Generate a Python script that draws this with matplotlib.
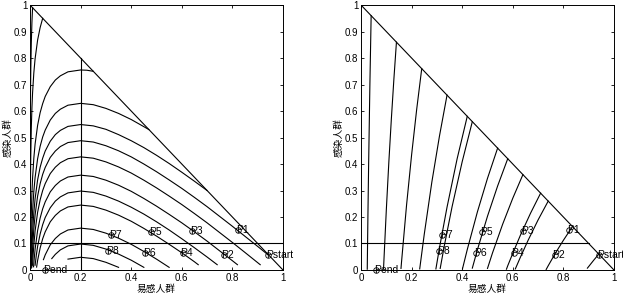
import matplotlib
matplotlib.use("Agg")
import matplotlib.pyplot as plt

plt.rcParams['font.family'] = ['Liberation Sans', 'Noto Sans CJK SC', 'DejaVu Sans']

# labelled points (s, i)
point_names = ['Pstart', 'P1', 'P2', 'P3', 'P4', 'P5', 'P6', 'P7', 'P8', 'Pend']
point_s = [0.940, 0.824, 0.765, 0.641, 0.603, 0.478, 0.456, 0.322, 0.307, 0.058]
point_i = [0.057, 0.151, 0.057, 0.147, 0.063, 0.142, 0.065, 0.131, 0.072, 0.000]

# left panel trajectories as (s, i)
left1 = [(0.01, 0.99), (0.0075, 0.935), (0.005, 0.856), (0.003, 0.756), (0.002, 0.676),
         (0.001, 0.538), (0.0005, 0.400), (0.0002, 0.217), (0.0001, 0.079)]
left2 = [(0.05, 0.95), (0.04, 0.915), (0.03, 0.868), (0.02, 0.797), (0.015, 0.744),
         (0.01, 0.668), (0.0075, 0.613), (0.005, 0.535), (0.003, 0.434), (0.002, 0.354),
         (0.001, 0.217), (0.0005, 0.079)]
left3 = [(0.25, 0.75), (0.225, 0.754), (0.2, 0.755), (0.15, 0.748), (0.12, 0.733), (0.1, 0.717),
         (0.08, 0.692), (0.06, 0.655), (0.05, 0.628), (0.04, 0.594), (0.03, 0.546),
         (0.02, 0.475), (0.015, 0.422), (0.01, 0.346), (0.0075, 0.291), (0.005, 0.213),
         (0.003, 0.112), (0.002, 0.032)]
left4 = [(0.47, 0.53), (0.45, 0.541), (0.4, 0.568), (0.35, 0.591), (0.3, 0.610), (0.25, 0.624),
         (0.2, 0.629), (0.15, 0.622), (0.12, 0.607), (0.1, 0.591), (0.08, 0.566), (0.06, 0.528),
         (0.05, 0.502), (0.04, 0.467), (0.03, 0.420), (0.02, 0.349), (0.015, 0.296),
         (0.01, 0.220), (0.0075, 0.165), (0.005, 0.086), (0.0035, 0.017)]
left5 = [(0.7, 0.300), (0.65, 0.335), (0.6, 0.369), (0.55, 0.402), (0.5, 0.433), (0.45, 0.462),
         (0.4, 0.488), (0.35, 0.511), (0.3, 0.531), (0.25, 0.544), (0.2, 0.549), (0.15, 0.542),
         (0.12, 0.527), (0.1, 0.511), (0.08, 0.486), (0.06, 0.449), (0.05, 0.422),
         (0.04, 0.388), (0.03, 0.340), (0.02, 0.269), (0.015, 0.216), (0.01, 0.140),
         (0.0075, 0.085), (0.006, 0.042), (0.005, 0.007)]
left6 = [(0.94, 0.058), (0.9, 0.089), (0.85, 0.127), (0.8, 0.165), (0.75, 0.202), (0.7, 0.239),
         (0.65, 0.274), (0.6, 0.308), (0.55, 0.340), (0.5, 0.371), (0.45, 0.400), (0.4, 0.427),
         (0.35, 0.450), (0.3, 0.469), (0.25, 0.483), (0.2, 0.488), (0.15, 0.481), (0.12, 0.466),
         (0.1, 0.449), (0.08, 0.425), (0.06, 0.387), (0.05, 0.361), (0.04, 0.326),
         (0.03, 0.279), (0.02, 0.208), (0.015, 0.155), (0.01, 0.079), (0.008, 0.036),
         (0.007, 0.011)]
left7 = [(0.91, 0.020), (0.85, 0.066), (0.8, 0.104), (0.75, 0.141), (0.7, 0.178), (0.65, 0.213),
         (0.6, 0.247), (0.55, 0.279), (0.5, 0.310), (0.45, 0.339), (0.4, 0.366), (0.35, 0.389),
         (0.3, 0.408), (0.25, 0.422), (0.2, 0.427), (0.15, 0.420), (0.12, 0.405), (0.1, 0.388),
         (0.08, 0.364), (0.06, 0.326), (0.05, 0.300), (0.04, 0.265), (0.03, 0.218),
         (0.02, 0.147), (0.015, 0.094), (0.012, 0.052), (0.01, 0.018)]
left8 = [(0.82, 0.020), (0.8, 0.035), (0.75, 0.072), (0.7, 0.109), (0.65, 0.144), (0.6, 0.178),
         (0.55, 0.210), (0.5, 0.241), (0.45, 0.270), (0.4, 0.297), (0.35, 0.320), (0.3, 0.339),
         (0.25, 0.353), (0.2, 0.358), (0.15, 0.351), (0.12, 0.336), (0.1, 0.319), (0.08, 0.295),
         (0.06, 0.257), (0.05, 0.231), (0.04, 0.196), (0.03, 0.149), (0.02, 0.078),
         (0.016, 0.037), (0.014, 0.012)]
left9 = [(0.74, 0.020), (0.7, 0.049), (0.65, 0.084), (0.6, 0.118), (0.55, 0.151), (0.5, 0.182),
         (0.45, 0.211), (0.4, 0.237), (0.35, 0.260), (0.3, 0.279), (0.25, 0.293), (0.2, 0.298),
         (0.15, 0.291), (0.12, 0.276), (0.1, 0.260), (0.08, 0.235), (0.06, 0.198), (0.05, 0.171),
         (0.04, 0.136), (0.03, 0.089), (0.025, 0.057), (0.02, 0.018)]
left10 = [(0.665, 0.020), (0.65, 0.031), (0.6, 0.065), (0.55, 0.097), (0.5, 0.128), (0.45, 0.157),
          (0.4, 0.184), (0.35, 0.207), (0.3, 0.226), (0.25, 0.240), (0.2, 0.245), (0.15, 0.238),
          (0.12, 0.223), (0.1, 0.206), (0.08, 0.182), (0.06, 0.144), (0.05, 0.118),
          (0.04, 0.083), (0.03, 0.036), (0.026, 0.011)]
left11 = [(0.55, 0.010), (0.5, 0.041), (0.45, 0.070), (0.4, 0.097), (0.35, 0.120), (0.3, 0.139),
          (0.25, 0.153), (0.2, 0.158), (0.15, 0.151), (0.12, 0.136), (0.1, 0.119), (0.08, 0.095),
          (0.06, 0.057), (0.053, 0.039)]
left12 = [(0.45, 0.010), (0.4, 0.037), (0.35, 0.060), (0.3, 0.079), (0.25, 0.093), (0.2, 0.098),
          (0.15, 0.091), (0.12, 0.076), (0.1, 0.059), (0.086, 0.043)]
left13 = [(0.35, 0.010), (0.3, 0.029), (0.25, 0.043), (0.2, 0.048), (0.15, 0.041)]

# right panel trajectories
right1 = [(0.04, 0.96), (0.035, 0.698), (0.03, 0.395), (0.0275, 0.223), (0.025, 0.035), (0.0246, 0.003)]
right2 = [(0.14, 0.86), (0.13, 0.722), (0.12, 0.572), (0.11, 0.408), (0.10, 0.227), (0.09, 0.026), (0.089, 0.005)]
right3 = [(0.24, 0.76), (0.22, 0.606), (0.20, 0.435), (0.18, 0.245), (0.16, 0.029), (0.158, 0.006)]
right4 = [(0.34, 0.66), (0.31, 0.505), (0.28, 0.332), (0.25, 0.135), (0.235, 0.026), (0.232, 0.004)]
right5 = [(0.42, 0.58), (0.38, 0.420), (0.34, 0.237), (0.31, 0.083), (0.296, 0.004)]
right6 = [(0.44, 0.56), (0.40, 0.409), (0.36, 0.239), (0.33, 0.095), (0.313, 0.006)]
right7 = [(0.54, 0.46), (0.50, 0.346), (0.46, 0.219), (0.42, 0.077), (0.401, 0.004)]
right8 = [(0.58, 0.42), (0.54, 0.317), (0.50, 0.203), (0.46, 0.076), (0.44, 0.007)]
right9 = [(0.64, 0.36), (0.60, 0.271), (0.56, 0.173), (0.52, 0.065), (0.50, 0.006)]
right10 = [(0.71, 0.29), (0.67, 0.214), (0.63, 0.131), (0.60, 0.063), (0.58, 0.016), (0.575, 0.003)]
right11 = [(0.74, 0.26), (0.70, 0.189), (0.66, 0.111), (0.63, 0.048), (0.61, 0.004)]
right12 = [(0.836, 0.164), (0.80, 0.112), (0.77, 0.066), (0.74, 0.016), (0.732, 0.002)]
right13 = [(0.94, 0.06), (0.92, 0.037), (0.90, 0.013), (0.895, 0.007)]

left_curves = [left1, left2, left3, left4, left5, left6, left7, left8, left9,
               left10, left11, left12, left13]
right_curves = [right1, right2, right3, right4, right5, right6, right7, right8,
                right9, right10, right11, right12, right13]

# guide lines
diag_s, diag_i = [0, 1], [1, 0]
left_vline_s, left_vline_i = [0.2, 0.2], [0, 0.8]
left_hline_s, left_hline_i = [0, 1], [0.1, 0.1]
right_hline_s, right_hline_i = [0, 0.9], [0.1, 0.1]

xticks = [0, 0.2, 0.4, 0.6, 0.8, 1]
yticks = [0, 0.1, 0.2, 0.3, 0.4, 0.5, 0.6, 0.7, 0.8, 0.9, 1]
xtick_labels = ['0', '0.2', '0.4', '0.6', '0.8', '1']
ytick_labels = ['0', '0.1', '0.2', '0.3', '0.4', '0.5', '0.6', '0.7', '0.8', '0.9', '1']

fig = plt.figure(figsize=(6.23, 2.98), dpi=100)
ax1 = fig.add_axes([0.0482, 0.094, 0.406, 0.889])
ax2 = fig.add_axes([0.5795, 0.094, 0.406, 0.889])

lw = 0.8


def setup(ax):
    ax.set_xlim(0, 1)
    ax.set_ylim(0, 1)
    ax.set_xticks(xticks)
    ax.set_xticklabels(xtick_labels)
    ax.set_yticks(yticks)
    ax.set_yticklabels(ytick_labels)
    ax.tick_params(direction='in', length=2, width=0.6, top=True, right=True,
                   labelsize=7, pad=2)
    for sp in ax.spines.values():
        sp.set_linewidth(0.7)
    ax.set_xlabel('易感人群', family=['Noto Sans CJK SC'], fontsize=7, labelpad=1)
    ax.set_ylabel('感染人群', family=['Noto Sans CJK SC'], fontsize=7, labelpad=1)


def draw_points(ax):
    ax.plot(point_s, point_i, 'o', mfc='none', mec='k', ms=4, mew=0.6, clip_on=False)
    for name, s, i in zip(point_names, point_s, point_i):
        ax.text(s - 0.008, i, name, fontsize=7.5, ha='left', va='center')


for c in left_curves:
    s, i = zip(*c)
    ax1.plot(s, i, 'k-', lw=lw)
ax1.plot(diag_s, diag_i, 'k-', lw=lw)
ax1.plot(left_vline_s, left_vline_i, 'k-', lw=lw)
ax1.plot(left_hline_s, left_hline_i, 'k-', lw=lw)
draw_points(ax1)
setup(ax1)

for c in right_curves:
    s, i = zip(*c)
    ax2.plot(s, i, 'k-', lw=lw)
ax2.plot(diag_s, diag_i, 'k-', lw=lw)
ax2.plot(right_hline_s, right_hline_i, 'k-', lw=lw)
draw_points(ax2)
setup(ax2)

fig.savefig('out.png', dpi=100)
